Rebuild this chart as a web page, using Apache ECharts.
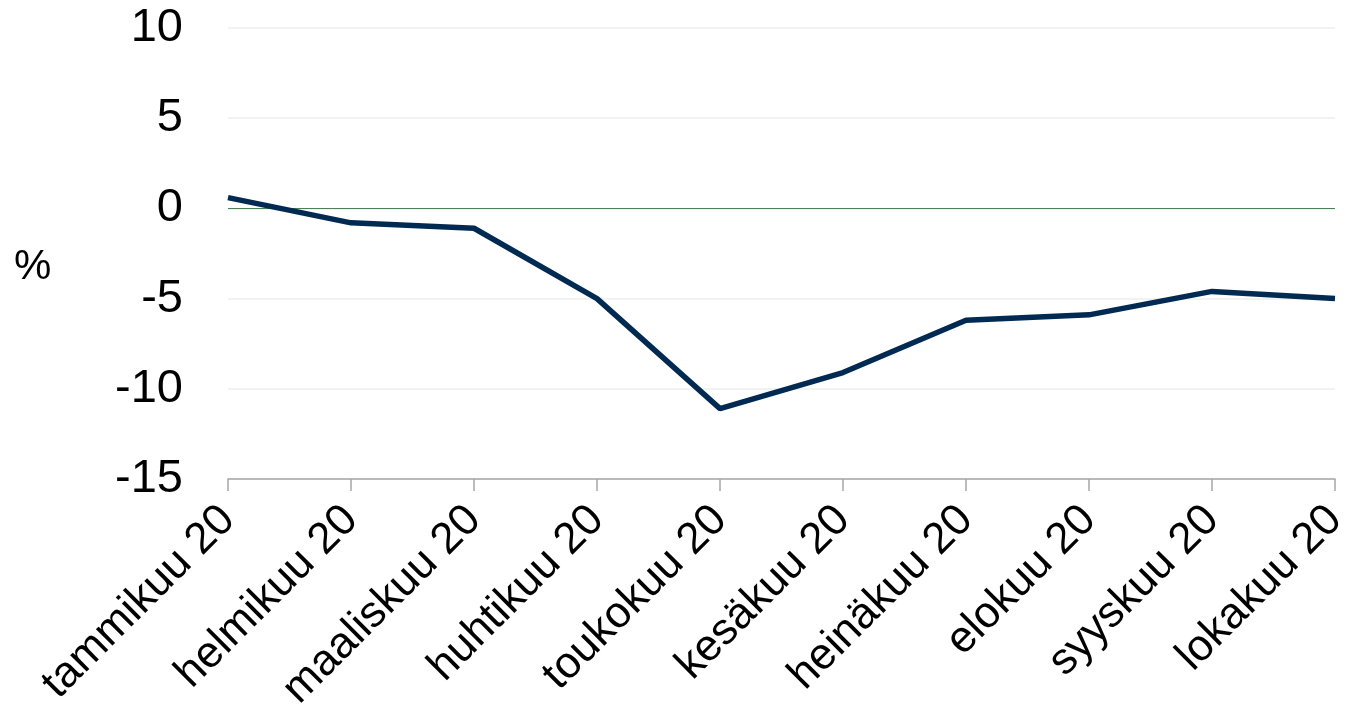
<!DOCTYPE html>
<html>
<head>
<meta charset="utf-8">
<script src="https://cdn.jsdelivr.net/npm/echarts@6/dist/echarts.min.js"></script>
<style>html,body{margin:0;padding:0;background:#fff}#c{width:1348px;height:708px}</style>
</head>
<body>
<div id="c"></div>
<script>
var categories = ['tammikuu 20','helmikuu 20','maaliskuu 20','huhtikuu 20','toukokuu 20','kesäkuu 20','heinäkuu 20','elokuu 20','syyskuu 20','lokakuu 20'];
var values = [0.6, -0.8, -1.1, -5.0, -11.1, -9.1, -6.2, -5.9, -4.6, -5.0];
var yMin = -15, yMax = 10, yStep = 5;
var unitLabel = '%';

var chart = echarts.init(document.getElementById('c'));
chart.setOption({
  animation: false,
  grid: { left: 228, right: 13, top: 28, bottom: 229, containLabel: false, outerBoundsMode: 'none' },
  graphic: [{ type: 'text', left: 14, top: 246, style: { text: unitLabel, font: '42px "Liberation Sans", Arial, sans-serif', fill: '#000' } }],
  xAxis: {
    type: 'category', data: categories, boundaryGap: false,
    axisLine: { onZero: false, lineStyle: { color: '#a6a6a6', width: 1.5 } },
    axisTick: { show: true, alignWithLabel: true, length: 12, lineStyle: { color: '#a6a6a6', width: 1.5 } },
    axisLabel: { rotate: 45, interval: 0, margin: 34, color: '#000', fontSize: 44, fontFamily: '"Liberation Sans", Arial, sans-serif' },
    splitLine: { show: false }
  },
  yAxis: {
    type: 'value', min: yMin, max: yMax, interval: yStep,
    axisLine: { show: false }, axisTick: { show: false },
    axisLabel: { margin: 45, color: '#000', fontSize: 47, fontFamily: '"Liberation Sans", Arial, sans-serif' },
    splitLine: { lineStyle: { color: '#eeeeee', width: 1.5 } }
  },
  series: [{
    type: 'line', data: values, symbol: 'none',
    lineStyle: { color: '#002a52', width: 5.5 },
    z: 3,
    markLine: { silent: true, symbol: 'none', label: { show: false }, data: [{ yAxis: 0 }], lineStyle: { color: '#4f7f55', width: 1.2, type: 'solid' }, z: 1 }
  }]
});
</script>
</body>
</html>
